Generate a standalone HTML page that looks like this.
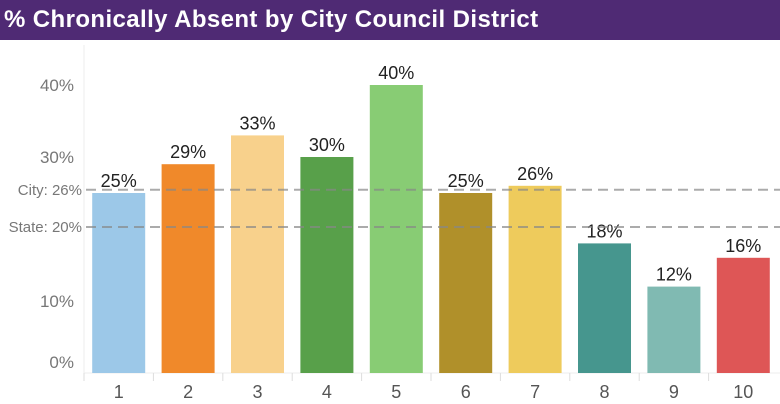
<!DOCTYPE html>
<html><head><meta charset="utf-8"><style>
body{margin:0;width:780px;height:404px;background:#fff;overflow:hidden;font-family:"Liberation Sans",sans-serif}
#title{position:absolute;left:0;top:0;width:780px;height:40px;background:#4f2a74;color:#fff;font-weight:bold;font-size:24px;letter-spacing:0.4px;line-height:40px;padding-left:4px;box-sizing:border-box}
svg{position:absolute;left:0;top:0}
</style></head><body>
<div id="title">% Chronically Absent by City Council District</div>
<svg id="c" width="780" height="404"></svg>
<script>
const categories=["1","2","3","4","5","6","7","8","9","10"];
const values=[25,29,33,30,40,25,26,18,12,16];
const colors=["#9cc8e8","#f0892a","#f8d18c","#58a04a","#88cc74","#b0902a","#eecb5c","#46968e","#80bab2","#de5656"];
const yTicks=[0,10,30,40];
const refValues=[26,20];
const refLabels=["City: 26%","State: 20%"];
const NS="http://www.w3.org/2000/svg";
const svg=document.getElementById('c');
const x0=84,step=69.4,base=373,k=7.2,bw=53;
const xs=i=>x0+i*step+step/2;
const ys=v=>base-v*k;
function mk(t,a,p){const e=document.createElementNS(NS,t);for(const n in a)e.setAttribute(n,a[n]);(p||svg).appendChild(e);return e;}
const ax=mk('line',{x1:x0,y1:45,x2:x0,y2:base,stroke:'#eee'});


const bl=mk('line',{x1:x0,y1:base,x2:780,y2:base,stroke:'#eee'});


yTicks.forEach(v=>{
 const t=mk('text',{x:74,y:ys(v)+6-(v===0?11:0),'text-anchor':'end','font-size':17,fill:'#777'});
 t.textContent=v+'%';
 
 
});
categories.forEach((c,i)=>{
 const tk=mk('line',{x1:x0+i*step,y1:base,x2:x0+i*step,y2:base+8,stroke:'#ddd'});
 
 
 const r=mk('rect',{x:xs(i)-bw/2,y:ys(values[i]),width:bw,height:values[i]*k,fill:colors[i]});
 
 
 const l=mk('text',{x:xs(i),y:ys(values[i])-6,'text-anchor':'middle','font-size':18,fill:'#222'});
 l.textContent=values[i]+'%';
 
 
 const xl=mk('text',{x:xs(i),y:base+25,'text-anchor':'middle','font-size':18,fill:'#555'});
 xl.textContent=c;
 
 
});
refValues.forEach((v,i)=>{
 const y=ys(v)+(i===0?4:-2);
 const ln=mk('line',{x1:86,y1:y,x2:780,y2:y,stroke:'#888','stroke-opacity':0.7,'stroke-width':2,'stroke-dasharray':'10,6'});
 
 
 const t=mk('text',{x:82,y:y+5,'text-anchor':'end','font-size':15,fill:'#777'});
 t.textContent=refLabels[i];
 
 
});
</script>
</body></html>
